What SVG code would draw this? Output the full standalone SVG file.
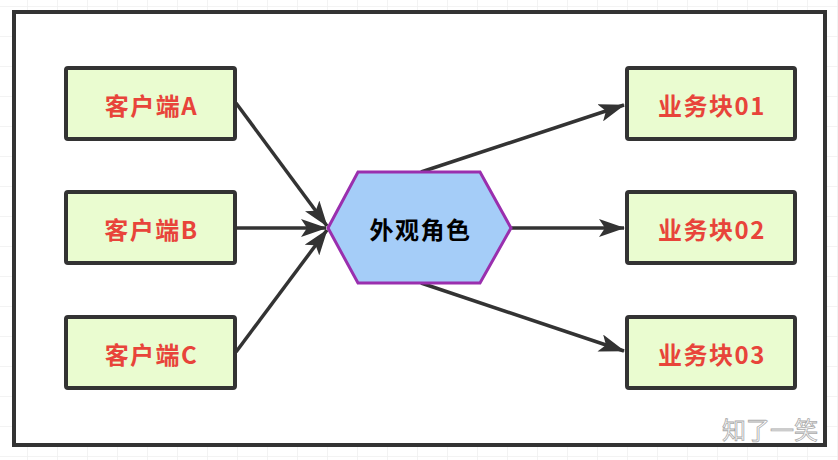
<svg xmlns="http://www.w3.org/2000/svg" width="838" height="460" viewBox="0 0 838 460">
<defs>
<pattern id="grid" width="30" height="30" patternUnits="userSpaceOnUse" x="-2" y="7">
<path d="M30 0V30M0 30H30" fill="none" stroke="#efefef" stroke-width="1.5"/>
</pattern>
<marker id="arr" viewBox="0 0 26 18" refX="25" refY="9" markerWidth="26" markerHeight="18" markerUnits="userSpaceOnUse" orient="auto">
<path d="M0 0L26 9L0 18L6 9Z" fill="#333"/>
</marker>
<style>
.box{fill:#eafcd0;stroke:#333;stroke-width:4}
.lbl{font-family:"Noto Sans CJK SC","Noto Sans",sans-serif;font-size:24px;letter-spacing:1.5px;fill:#e8443a;text-anchor:middle;dominant-baseline:central;font-weight:600}
.edge{stroke:#333;stroke-width:3.5;fill:none;marker-end:url(#arr)}
</style>
</defs>
<rect width="838" height="460" fill="#fff"/>
<rect width="838" height="460" fill="url(#grid)"/>
<rect x="14" y="12" width="811" height="433" fill="#fff" stroke="#333" stroke-width="4"/>
<g id="connectors">
<path class="edge" d="M236 103L327 226"/>
<path class="edge" d="M236 228L326 228"/>
<path class="edge" d="M236 352L327 230"/>
<path class="edge" d="M421 172L624 105"/>
<path class="edge" d="M511 228L624 228"/>
<path class="edge" d="M421 283L624 351"/>
</g>
<g id="clientA"><rect class="box" x="66" y="68" width="169" height="71" rx="2"/><text class="lbl" x="151.5" y="104">客户端A</text></g>
<g id="clientB"><rect class="box" x="66" y="192" width="169" height="71" rx="2"/><text class="lbl" x="151.5" y="228">客户端B</text></g>
<g id="clientC"><rect class="box" x="66" y="317" width="169" height="71" rx="2"/><text class="lbl" x="151.5" y="353">客户端C</text></g>
<g id="facade">
<polygon points="328,228 358,172 480,172 511,228 480,283 358,283" fill="#a5cdf8" stroke="#9a2fae" stroke-width="3"/>
<text x="420.5" y="228.5" font-family="'Noto Sans CJK SC','Noto Sans',sans-serif" font-size="24" letter-spacing="1.5" font-weight="600" fill="#000" text-anchor="middle" dominant-baseline="central">外观角色</text>
</g>
<g id="biz01"><rect class="box" x="627" y="68" width="168" height="71" rx="2"/><text class="lbl" x="712" y="104">业务块01</text></g>
<g id="biz02"><rect class="box" x="627" y="192" width="168" height="71" rx="2"/><text class="lbl" x="712" y="228">业务块02</text></g>
<g id="biz03"><rect class="box" x="627" y="317" width="168" height="71" rx="2"/><text class="lbl" x="712" y="353">业务块03</text></g>
<text x="770" y="439" font-family="'Noto Sans CJK SC',sans-serif" font-size="24" fill="#fff" stroke="#aaa" stroke-width="0.8" text-anchor="middle">知了一笑</text>
</svg>
